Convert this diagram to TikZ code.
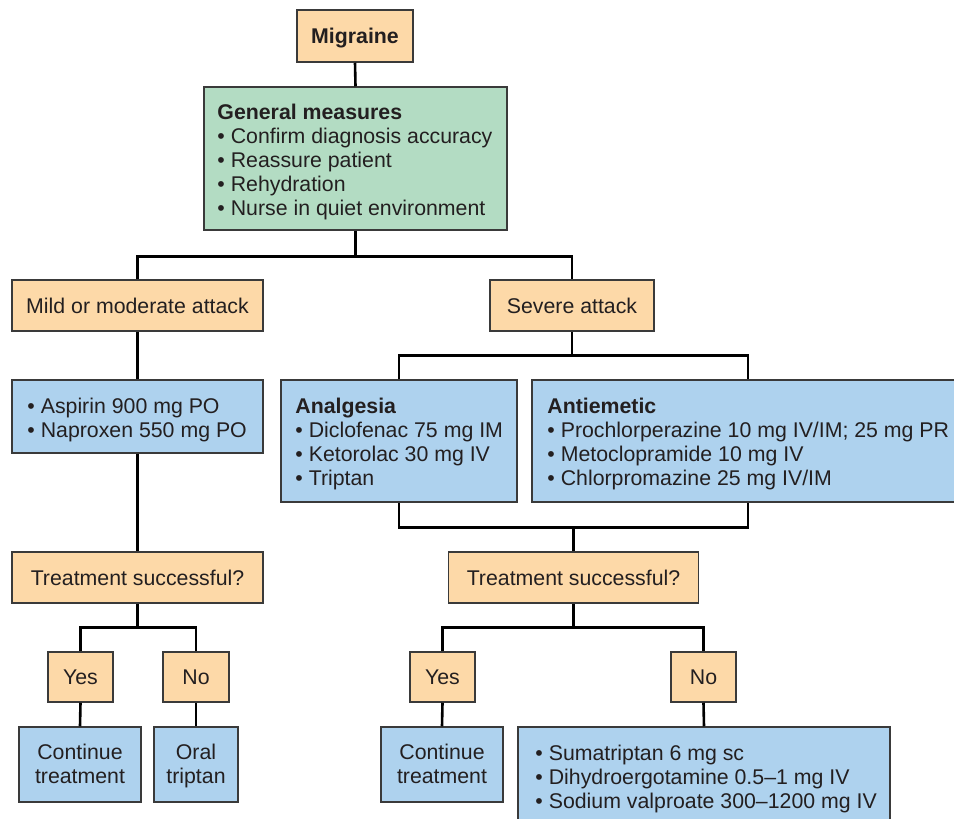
\documentclass[tikz,border=0pt]{standalone}
\usepackage{fontspec}
\setmainfont{Liberation Sans}
\usetikzlibrary{calc}
\definecolor{peach}{RGB}{253,217,168}
\definecolor{mint}{RGB}{179,220,195}
\definecolor{sky}{RGB}{174,210,238}
\definecolor{edge}{RGB}{58,58,58}
\definecolor{ink}{RGB}{35,31,32}
\tikzset{
  box/.style={draw=edge, line width=1.5pt, inner sep=0pt, text=ink, align=center,
    font=\fontsize{21.3}{24}\selectfont},
  obox/.style={box, fill=peach, text height=15.5pt, text depth=0pt},
  gbox/.style={box, fill=mint},
  bbox/.style={box, fill=sky},
  txt/.style={anchor=west, inner sep=0pt, align=left, text=ink, yshift=-3pt,
    font=\fontsize{21.3}{24}\selectfont},
  ctxt/.style={inner sep=0pt, align=center, text=ink, yshift=-1pt,
    font=\fontsize{21.3}{24}\selectfont},
  conn/.style={draw=black, line width=2.6pt}
}
\newcommand{\bul}{\textbullet\ }
\begin{document}
\begin{tikzpicture}[x=1pt,y=-1pt]
\path[use as bounding box] (0,0) rectangle (954,819);
\clip (0,0) rectangle (954,819);

\node[obox, minimum width=116, minimum height=52] (mig) at (355,36) {\textbf{Migraine}};
\node[gbox, minimum width=303, minimum height=143] (gen) at (355.5,158.5) {};
\node[txt] (genT) at ($(gen.west)+(14,0)$) {\textbf{General measures}\\\bul Confirm diagnosis accuracy\\\bul Reassure patient\\\bul Rehydration\\\bul Nurse in quiet environment};

\node[obox, minimum width=251, minimum height=51] (mild) at (137.5,305.5) {Mild or moderate attack};
\node[obox, minimum width=164, minimum height=51] (sev) at (572,305.5) {Severe attack};

\node[bbox, minimum width=251, minimum height=73] (asp) at (137.5,416.5) {};
\node[txt] (aspT) at ($(asp.west)+(16,0)$) {\bul Aspirin 900 mg PO\\\bul Naproxen 550 mg PO};

\node[bbox, minimum width=236, minimum height=122] (anal) at (399,441) {};
\node[txt] (analT) at ($(anal.west)+(15,0)$) {\textbf{Analgesia}\\\bul Diclofenac 75 mg IM\\\bul Ketorolac 30 mg IV\\\bul Triptan};

\node[bbox, minimum width=432, minimum height=122] (anti) at (748,441) {};
\node[txt] (antiT) at ($(anti.west)+(16,0)$) {\textbf{Antiemetic}\\\bul Prochlorperazine 10 mg IV/IM; 25 mg PR\\\bul Metoclopramide 10 mg IV\\\bul Chlorpromazine 25 mg IV/IM};

\node[obox, minimum width=251, minimum height=51] (trL) at (137.5,577.5) {Treatment successful?};
\node[obox, minimum width=250, minimum height=51] (trR) at (573.5,577.5) {Treatment successful?};

\node[obox, minimum width=65, minimum height=50] (yesL) at (80.5,677) {Yes};
\node[obox, minimum width=66, minimum height=50] (noL) at (196,677) {No};
\node[obox, minimum width=65, minimum height=50] (yesR) at (442.5,677) {Yes};
\node[obox, minimum width=65, minimum height=50] (noR) at (703.5,677) {No};

\node[bbox, minimum width=122, minimum height=75] (contL) at (80,764.5) {};
\node[ctxt] (contLT) at (contL.center) {Continue\\treatment\vphantom{p}};
\node[bbox, minimum width=84, minimum height=75] (oral) at (196,764.5) {};
\node[ctxt] (oralT) at (oral.center) {Oral\\triptan};
\node[bbox, minimum width=122, minimum height=75] (contR) at (442,764.5) {};
\node[ctxt] (contRT) at (contR.center) {Continue\\treatment\vphantom{p}};
\node[bbox, minimum width=372, minimum height=98] (suma) at (704,776) {};
\node[txt] (sumaT) at ($(suma.west)+(18,0)$) {\bul Sumatriptan 6 mg sc\\\bul Dihydroergotamine 0.5–1 mg IV\\\bul Sodium valproate 300–1200 mg IV};

% connectors
\draw[conn] (mig.south) -- (gen.north);
\draw[conn] (gen.south) -- ++(0,26) coordinate (j1);
\draw[conn] (mild.north) |- (j1) -| (sev.north);
\draw[conn] (mild.south) -- (asp.north);
\draw[conn] (asp.south) -- (trL.north);
\draw[conn] (sev.south) -- ++(0,24) coordinate (j2);
\draw[conn] (anal.north) |- (j2) -| (anti.north);
\draw[conn] (anal.south) -- ++(0,25) -| (anti.south);
\draw[conn] (trR.north) -- ++(0,-25);
\draw[conn] (trL.south) -- ++(0,24) coordinate (j4);
\draw[conn] (yesL.north) |- (j4) -| (noL.north);
\draw[conn] (yesL.south) -- (contL.north);
\draw[conn] (noL.south) -- (oral.north);
\draw[conn] (trR.south) -- ++(0,24) coordinate (j5);
\draw[conn] (yesR.north) |- (j5) -| (noR.north);
\draw[conn] (yesR.south) -- (contR.north);
\draw[conn] (noR.south) -- (suma.north);
\end{tikzpicture}
\end{document}
